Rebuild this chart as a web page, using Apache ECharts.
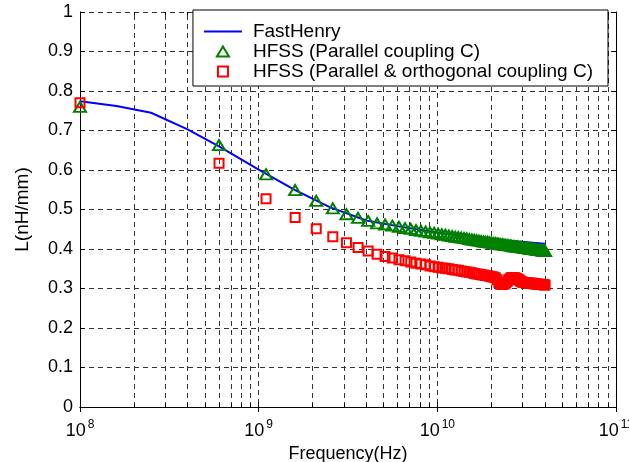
<!DOCTYPE html>
<html>
<head>
<meta charset="utf-8">
<script src="https://cdn.jsdelivr.net/npm/echarts@6/dist/echarts.min.js"></script>
<style>
  html, body { margin: 0; padding: 0; background: #fff; overflow: hidden; }
  #chart { width: 629px; height: 462px; }
</style>
</head>
<body>
<div id="chart"></div>
<script>
// FastHenry curve (GHz -> nH/mm)
const fastHenryFreqGHz = [0.1, 0.16, 0.25, 0.4, 0.6, 1, 1.6, 2.5, 4, 6.3, 10, 16, 25, 40]
const fastHenryL = [0.774, 0.762, 0.745, 0.703, 0.660, 0.601, 0.549, 0.506, 0.472, 0.456, 0.442, 0.430, 0.421, 0.413]

// HFSS sweep frequencies (GHz)
const hfssFreqGHz = [
  0.1, 0.6, 1.1, 1.6, 2.1, 2.6, 3.1, 3.6, 4.1, 4.6,
  5.1, 5.6, 6.1, 6.6, 7.1, 7.6, 8.1, 8.6, 9.1, 9.6,
  10.1, 10.6, 11.1, 11.6, 12.1, 12.6, 13.1, 13.6, 14.1, 14.6,
  15.1, 15.6, 16.1, 16.6, 17.1, 17.6, 18.1, 18.6, 19.1, 19.6,
  20.1, 20.6, 21.1, 21.6, 22.1, 22.6, 23.1, 23.6, 24.1, 24.6,
  25.1, 25.6, 26.1, 26.6, 27.1, 27.6, 28.1, 28.6, 29.1, 29.6,
  30.1, 30.6, 31.1, 31.6, 32.1, 32.6, 33.1, 33.6, 34.1, 34.6,
  35.1, 35.6, 36.1, 36.6, 37.1, 37.6, 38.1, 38.6, 39.1, 39.6,
  40.1,
]
const parallelL = [
  0.760, 0.663, 0.589, 0.549, 0.522, 0.503, 0.488, 0.479, 0.471, 0.465,
  0.462, 0.459, 0.456, 0.453, 0.451, 0.448, 0.446, 0.444, 0.442, 0.441,
  0.439, 0.437, 0.436, 0.434, 0.433, 0.431, 0.430, 0.429, 0.428, 0.427,
  0.425, 0.424, 0.423, 0.422, 0.421, 0.420, 0.419, 0.418, 0.418, 0.417,
  0.416, 0.415, 0.415, 0.414, 0.413, 0.412, 0.412, 0.411, 0.410, 0.410,
  0.409, 0.409, 0.408, 0.407, 0.407, 0.406, 0.406, 0.405, 0.405, 0.404,
  0.404, 0.403, 0.403, 0.402, 0.402, 0.401, 0.401, 0.400, 0.400, 0.400,
  0.399, 0.399, 0.398, 0.398, 0.397, 0.397, 0.397, 0.396, 0.396, 0.395,
  0.395,
]
const orthogonalL = [
  0.770, 0.617, 0.527, 0.480, 0.451, 0.431, 0.416, 0.404, 0.395, 0.387,
  0.381, 0.377, 0.373, 0.370, 0.367, 0.364, 0.362, 0.360, 0.357, 0.355,
  0.354, 0.352, 0.351, 0.350, 0.348, 0.347, 0.346, 0.344, 0.343, 0.342,
  0.341, 0.340, 0.338, 0.337, 0.336, 0.335, 0.334, 0.333, 0.332, 0.331,
  0.330, 0.329, 0.327, 0.322, 0.315, 0.311, 0.310, 0.311, 0.314, 0.318,
  0.322, 0.326, 0.328, 0.328, 0.327, 0.326, 0.324, 0.322, 0.319, 0.317,
  0.316, 0.315, 0.315, 0.314, 0.314, 0.314, 0.313, 0.313, 0.313, 0.312,
  0.312, 0.312, 0.311, 0.311, 0.311, 0.311, 0.310, 0.310, 0.310, 0.309,
  0.309,
]

// log-axis decades and minor steps for the dashed grid
const decades = [1e8, 1e9, 1e10]
const minorSteps = [2, 3, 4, 5, 6, 7, 8, 9]

const FONT = '"Liberation Sans", Arial, Helvetica, sans-serif'
const GRID_LINE = { color: '#333', type: [5, 4], width: 1 }
const lineIcon = 'path://M0,0 L38,0 L38,2 L0,2 Z'
const triIcon = 'path://M6,0 L12,10 L0,10 Z'
const sqIcon = 'path://M0,0 L10,0 L10,10 L0,10 Z'
const MINOR_TICK = 0.008 // minor tick length in y units (~3px)

const toHz = ghz => ghz * 1e9
const pairs = (xs, ys) => xs.map((x, i) => [toHz(x), ys[i]])

const minorGrid = []
decades.forEach(d => minorSteps.forEach(s => minorGrid.push(d * s)))

// short inward ticks on bottom and top axes at the minor positions
const minorTicks = []
minorGrid.forEach(v => {
  minorTicks.push([{ coord: [v, 0] }, { coord: [v, MINOR_TICK] }])
  minorTicks.push([{ coord: [v, 1] }, { coord: [v, 1 - MINOR_TICK] }])
})

const expLabel = v => {
  const e = Math.round(Math.log10(v))
  return '{b|10}{s|' + e + '}'
}

const chart = echarts.init(document.getElementById('chart'), null, { renderer: 'canvas' })

const axisBase = {
  type: 'log',
  logBase: 10,
  min: 1e8,
  max: 1e11,
  axisLine: { show: true, lineStyle: { color: '#000', width: 1 } },
  axisTick: { show: true, inside: true, length: 5, lineStyle: { color: '#000' } },
}

chart.setOption({
  animation: false,
  textStyle: { fontFamily: FONT, color: '#000' },
  grid: { left: 80, right: 13, top: 12, bottom: 55, containLabel: false, outerBoundsMode: 'none' },
  legend: {
    orient: 'vertical',
    right: 21,
    top: 10,
    z: 20,
    padding: [12, 15, 5, 11],
    itemGap: 1,
    itemWidth: 38,
    itemHeight: 10,
    borderColor: '#000',
    borderWidth: 1,
    borderRadius: 0,
    backgroundColor: '#fff',
    selectedMode: false,
    textStyle: { fontSize: 19, color: '#000', fontFamily: FONT, padding: [0, 0, 0, 6] },
    data: [
      { name: 'FastHenry', icon: lineIcon },
      { name: 'HFSS (Parallel coupling C)', icon: triIcon },
      { name: 'HFSS (Parallel & orthogonal coupling C)', icon: sqIcon },
    ],
  },
  xAxis: [
    {
      ...axisBase,
      position: 'bottom',
      name: 'Frequency(Hz)',
      nameLocation: 'middle',
      nameGap: 30,
      nameTextStyle: { fontSize: 18, color: '#000', fontFamily: FONT },
      axisLabel: {
        margin: 12,
        formatter: expLabel,
        rich: {
          b: { fontSize: 18, color: '#000', fontFamily: FONT },
          s: { fontSize: 12, color: '#000', fontFamily: FONT, padding: [0, 0, 12, 2] },
        },
      },
      splitLine: { show: true, lineStyle: GRID_LINE },
    },
    {
      ...axisBase,
      position: 'top',
      axisLabel: { show: false },
      splitLine: { show: false },
    },
  ],
  yAxis: [
    {
      type: 'value',
      min: 0,
      max: 1,
      interval: 0.1,
      name: 'L(nH/mm)',
      nameLocation: 'middle',
      nameGap: 48,
      nameTextStyle: { fontSize: 19, color: '#000', fontFamily: FONT },
      axisLine: { show: true, lineStyle: { color: '#000', width: 1 } },
      axisTick: { show: true, inside: true, length: 5, lineStyle: { color: '#000' } },
      axisLabel: { fontSize: 18, color: '#000', margin: 7, fontFamily: FONT },
      splitLine: { show: true, lineStyle: GRID_LINE },
    },
    {
      type: 'value',
      min: 0,
      max: 1,
      interval: 0.1,
      position: 'right',
      axisLine: { show: true, lineStyle: { color: '#000', width: 1 } },
      axisTick: { show: true, inside: true, length: 5, lineStyle: { color: '#000' } },
      axisLabel: { show: false },
      splitLine: { show: false },
    },
  ],
  series: [
    {
      name: 'minor-grid',
      type: 'line',
      data: [],
      z: 1,
      silent: true,
      markLine: {
        silent: true,
        z: 1,
        symbol: 'none',
        label: { show: false },
        lineStyle: GRID_LINE,
        data: minorGrid.map(v => ({ xAxis: v })),
      },
    },
    {
      name: 'minor-ticks',
      type: 'line',
      data: [],
      z: 2,
      silent: true,
      markLine: {
        silent: true,
        z: 2,
        symbol: 'none',
        label: { show: false },
        lineStyle: { color: '#000', type: 'solid', width: 1 },
        data: minorTicks,
      },
    },
    {
      name: 'FastHenry',
      type: 'line',
      data: pairs(fastHenryFreqGHz, fastHenryL),
      symbol: 'none',
      z: 3,
      lineStyle: { color: '#0000ff', width: 2 },
      itemStyle: { color: '#0000ff' },
    },
    {
      name: 'HFSS (Parallel coupling C)',
      type: 'scatter',
      data: pairs(hfssFreqGHz, parallelL),
      symbol: 'triangle',
      symbolSize: [12, 10],
      z: 4,
      itemStyle: { color: 'rgba(0,0,0,0)', borderColor: '#008000', borderWidth: 2, opacity: 1 },
    },
    {
      name: 'HFSS (Parallel & orthogonal coupling C)',
      type: 'scatter',
      data: pairs(hfssFreqGHz, orthogonalL),
      symbol: 'rect',
      symbolSize: 9,
      z: 5,
      itemStyle: { color: 'rgba(0,0,0,0)', borderColor: '#ff0000', borderWidth: 2, opacity: 1 },
    },
  ],
})
</script>
</body>
</html>
